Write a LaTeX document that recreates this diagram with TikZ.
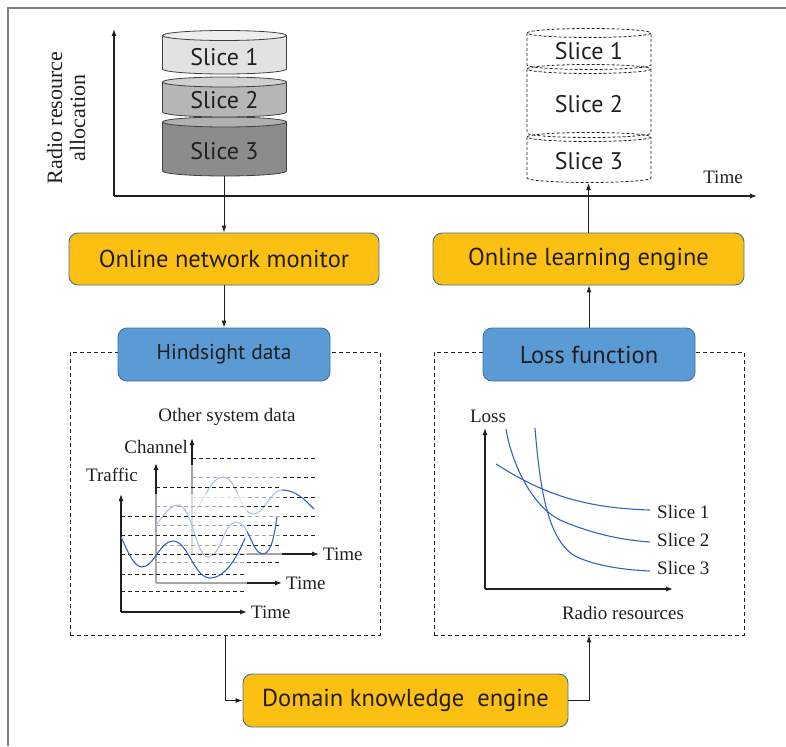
\documentclass[tikz,border=0pt]{standalone}
\usepackage{fontspec}
\setmainfont{Liberation Serif}
\newfontfamily\boxfont{PT Sans}
\usetikzlibrary{arrows.meta}
\definecolor{orangeF}{RGB}{251,192,18}
\definecolor{blueF}{RGB}{91,155,213}
\definecolor{edgeC}{RGB}{65,113,156}
\definecolor{curveC}{RGB}{50,100,190}
\definecolor{inkC}{RGB}{35,31,32}
\definecolor{frameC}{RGB}{128,128,128}
\definecolor{sOneB}{RGB}{226,226,226}
\definecolor{sOneT}{RGB}{238,238,238}
\definecolor{sTwoB}{RGB}{182,182,182}
\definecolor{sTwoT}{RGB}{208,208,208}
\definecolor{sThrB}{RGB}{140,140,140}
\definecolor{sThrT}{RGB}{176,176,176}
\newcommand{\solidslice}[5]{%
  \fill[#4] (#1-62,#2) -- (#1-62,#3) arc[start angle=180,end angle=0,x radius=62,y radius=5] -- (#1+62,#2) -- cycle;
  \draw[cylline] (#1-62,#2) -- (#1-62,#3) arc[start angle=180,end angle=0,x radius=62,y radius=5] -- (#1+62,#2);
  \filldraw[cylline,fill=#5] (#1,#2) ellipse[x radius=62,y radius=5];}
\newcommand{\dashslice}[3]{%
  \draw[dashcyl] (#1,#2) ellipse[x radius=62,y radius=4.5];
  \draw[dashcyl] (#1-62,#2) -- (#1-62,#3) arc[start angle=180,end angle=0,x radius=62,y radius=4.5] -- (#1+62,#2);}
\begin{document}
\begin{tikzpicture}[x=1pt,y=-1pt,
  cylline/.style={draw=black!75,line width=0.8pt},
  dashcyl/.style={draw=inkC,line width=0.8pt,dash pattern=on 3pt off 2pt},
  slicetxt/.style={font=\boxfont\fontsize{24}{26}\selectfont,text=inkC,inner sep=0pt},
  ybox/.style={draw=edgeC,line width=0.9pt,fill=orangeF,rounded corners=9pt,minimum height=52pt,inner sep=0pt,font=\boxfont\fontsize{24.5}{27}\selectfont,text=inkC},
  bbox/.style={draw=edgeC,line width=0.9pt,fill=blueF,rounded corners=9pt,minimum height=53pt,minimum width=212pt,inner sep=0pt,text=inkC},
  dashbox/.style={draw=inkC,line width=0.8pt,dash pattern=on 4pt off 3pt,minimum width=310pt,minimum height=283pt,inner sep=0pt},
  conn/.style={draw=inkC,line width=1pt,-{Latex[length=7pt,width=5pt]}},
  axisA/.style={draw=inkC,line width=1.1pt,-{Latex[length=7pt,width=5pt]}},
  gridd/.style={draw=inkC,line width=0.8pt,dash pattern=on 4pt off 3pt},
  curve/.style={draw=curveC,line width=1.1pt},
  lbl/.style={font=\fontsize{19}{21}\selectfont,text=inkC,inner sep=0pt}]
\useasboundingbox (0,0) rectangle (786,746);
\draw[frameC,line width=2pt] (8,746) -- (8,8.5) -- (786,8.5);
% top axes
\coordinate (yTop) at (114,29);
\coordinate (orig) at (114,196);
\coordinate (xEnd) at (757,196);
\draw[axisA] (orig) -- (yTop);
\draw[axisA] (orig) -- (xEnd);
\node[lbl,font=\fontsize{22}{23}\selectfont,rotate=90,align=center] (ylab) at (66,118) {Radio resource\\allocation};
\node[lbl] (timeTop) at (723,177) {Time};
% left cylinder
\solidslice{224.5}{122}{171}{sThrB}{sThrT}
\solidslice{224.5}{82}{112}{sTwoB}{sTwoT}
\solidslice{224.5}{35.5}{69}{sOneB}{sOneT}
\node[slicetxt] (l1) at (224.5,57) {Slice 1};
\node[slicetxt] (l2) at (224.5,100) {Slice 2};
\node[slicetxt] (l3) at (224.5,151) {Slice 3};
\coordinate (cylL) at (224,176);
% right cylinder
\dashslice{589}{137}{178}
\dashslice{589}{69}{133}
\dashslice{589}{33}{65}
\node[slicetxt] (r1) at (589,51) {Slice 1};
\node[slicetxt] (r2) at (589,104) {Slice 2};
\node[slicetxt] (r3) at (589,161) {Slice 3};
\coordinate (cylR) at (588.5,183);
% boxes
\node[ybox,minimum width=310pt] (mon) at (224,259) {Online network monitor};
\node[ybox,minimum width=311pt] (learn) at (588.5,259) {Online learning engine};
\node[dashbox] (lreg) at (225,493.5) {};
\node[dashbox] (rreg) at (589,493.5) {};
\node[bbox,font=\boxfont\fontsize{21.5}{24}\selectfont] (hind) at (224,354.5) {Hindsight data};
\node[bbox,font=\boxfont\fontsize{24.5}{27}\selectfont] (loss) at (589,354.5) {Loss function};
\node[ybox,minimum width=325pt,minimum height=53pt] (dom) at (405.5,700.5) {Domain knowledge\ \ engine};
% connectors
\draw[conn] (cylL) -- (mon.north);
\draw[conn] (mon.south) -- (hind.north);
\draw[conn] (loss.north) -- (loss.north |- learn.south);
\draw[conn] (learn.north) -- (cylR);
\draw[conn] (lreg.south) |- (dom.west);
\draw[conn] (dom.east) -| (rreg.south);
% ---- hindsight charts ----
% other system data
\foreach \yy in {535,516,497,477,458} \draw[gridd] (192,\yy) -- (318,\yy);
\coordinate (oO) at (192,554);
\draw[axisA] (oO) -- (192,438);
\draw[axisA] (oO) -- (319,554);
\draw[curve] (192,515) .. controls (205,500) and (211,477) .. (223,477) .. controls (237,477) and (240,514) .. (253,514) .. controls (265,514) and (270,490) .. (282,490) .. controls (296,490) and (305,500) .. (314,509);
\fill[white,opacity=0.6] (155,465) rectangle (282,584);
% channel
\foreach \yy in {562,545,525,506,487} \draw[gridd] (156,\yy) -- (282,\yy);
\coordinate (cO) at (156,583);
\draw[axisA] (cO) -- (156,463);
\draw[axisA] (cO) -- (282,583);
\draw[curve] (156,525) .. controls (164,515) and (170,505) .. (178,505) .. controls (192,505) and (196,557) .. (208,557) .. controls (221,557) and (224,522) .. (236,522) .. controls (249,522) and (252,554) .. (263,554) .. controls (272,554) and (275,530) .. (277,517);
\fill[white,opacity=0.6] (120,494) rectangle (247,613);
% traffic
\foreach \yy in {591,574,554,535,516} \draw[gridd] (121,\yy) -- (247,\yy);
\coordinate (tO) at (121,612);
\draw[axisA] (tO) -- (121,494);
\draw[axisA] (tO) -- (247,612);
\draw[curve] (121,537) .. controls (128,552) and (134,567) .. (142,567) .. controls (154,567) and (160,541) .. (173,541) .. controls (188,541) and (194,578) .. (210,578) .. controls (226,578) and (238,555) .. (245,538);
\node[lbl] (osd) at (227,417) {Other system data};
\node[lbl,anchor=east] (chl) at (188,447) {Channel};
\node[lbl] (trl) at (112,475) {Traffic};
\node[lbl,anchor=west] (t1) at (251,612) {Time};
\node[lbl,anchor=west] (t2) at (286,583) {Time};
\node[lbl,anchor=west] (t3) at (323,554) {Time};
% ---- loss chart ----
\coordinate (lO) at (485,589);
\draw[axisA] (lO) -- (485,428);
\draw[axisA] (lO) -- (673,589);
\draw[curve] (496,464) .. controls (540,492) and (580,508) .. (650,510);
\draw[curve] (506,429) .. controls (511,460) and (530,505) .. (560,520) .. controls (590,533) and (620,540) .. (650,542);
\draw[curve] (535,428) .. controls (540,490) and (548,540) .. (575,556) .. controls (595,566) and (625,570) .. (650,571);
\node[lbl] (lossl) at (488,416) {Loss};
\node[lbl] (rres) at (623,613) {Radio resources};
\node[lbl,anchor=west] (ls1) at (657,512) {Slice 1};
\node[lbl,anchor=west] (ls2) at (657,540) {Slice 2};
\node[lbl,anchor=west] (ls3) at (657,568) {Slice 3};
\end{tikzpicture}
\end{document}
